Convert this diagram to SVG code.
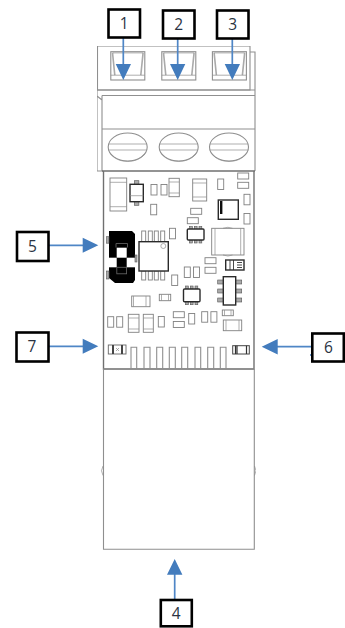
<svg xmlns="http://www.w3.org/2000/svg" width="345" height="628" viewBox="0 0 345 628">
<style>
.b{fill:none;stroke:#8f8f8f;stroke-width:1.1}
.h{fill:none;stroke:#707070;stroke-width:1.4}
.c{fill:#fff;stroke:#808080;stroke-width:.9}
.d{fill:#fff;stroke:#2c2c2c;stroke-width:1.4}
.l{fill:none;stroke:#8c8c8c;stroke-width:.7}
.p{fill:#aaa;stroke:#555;stroke-width:.6}
.n{fill:#fff;stroke:#000;stroke-width:2.6}
.t{font-family:"Open Sans","Liberation Sans",sans-serif;font-size:15.500px;fill:#2a3342;text-anchor:middle}
.w{fill:none;stroke:#4f86c6;stroke-width:1.7}
.a{fill:#437cbd}
</style>
<defs>
<filter id="soft" x="0" y="0" width="1" height="1"><feGaussianBlur stdDeviation="0.35"/></filter>
<g id="win"><rect class="b" x="0" y="0" width="34" height="28.300"/><path d="M1.700 1L4 23.500M32.300 1L30 23.500" fill="none" stroke="#aaa" stroke-width="1.600"/><path class="l" d="M0 23.500H34M2 1.200H32"/></g>
<g id="screw"><ellipse class="b" cx="0" cy="0" rx="19.500" ry="14"/><path class="l" d="M-19 -3H19M-19.300 3H19.300"/><path class="l" d="M-17 7Q-12 14 0 14.500Q12 14 17 7"/></g>
<rect id="r1" class="c" width="6" height="10.500"/>
<rect id="r2" class="c" width="11" height="6"/>
</defs>
<g id="device" filter="url(#soft)">
<rect class="b" x="97.500" y="46" width="152.500" height="44"/>
<path class="b" d="M250 52H255V90M97.500 90H255V95.500H102M97 90V171H103M102 95.500V171M102 129H255M255 95.500V171M97 96L102 100"/>
<use href="#win" x="110.800" y="51.700"/><use href="#win" x="161.800" y="51.700"/><use href="#win" x="212.400" y="51.700"/>
<use href="#screw" x="127.700" y="147"/><use href="#screw" x="178.700" y="147"/><use href="#screw" x="229" y="147"/>
<path class="h" d="M103.500 171V369H254V171M102 171H255"/>
<path class="b" d="M103.500 369V549.300H254.300V369M103 369H254"/>
<path class="l" d="M103 466Q100 470.700 103 475.500M254.500 466Q257.500 470.700 254.500 475.500" stroke-width="1"/>

<rect class="c" x="110" y="178" width="16.700" height="33"/><path class="l" d="M110 182.300H126.700M110 206.700H126.700"/>
<rect class="p" x="134.300" y="180.700" width="4.600" height="3.600"/><rect class="p" x="134.300" y="201.700" width="4.600" height="3.600"/>
<rect class="d" x="130" y="184.300" width="13.300" height="17.400"/><path class="l" d="M130 195.700H143.300"/>
<use href="#r1" x="151" y="184.500"/><use href="#r1" x="161" y="184.500"/>
<rect class="c" x="169" y="178.300" width="10.300" height="18.400"/><path class="l" d="M169 182H179.300M169 193H179.300"/>
<use href="#r1" x="150.700" y="204.300"/>
<rect class="c" x="192.700" y="179" width="14" height="22"/><path class="l" d="M192.700 183H206.700M192.700 197H206.700"/>
<use href="#r1" x="217.700" y="179"/>
<use href="#r2" x="237.700" y="173"/><use href="#r2" x="237.700" y="182.300"/>
<use href="#r1" x="244" y="194.300"/><use href="#r1" x="244" y="213.500"/>
<rect class="d" x="218.300" y="200" width="20" height="19.300"/><rect x="220" y="201" width="2.400" height="13" fill="#111"/>
<use href="#r2" x="190.700" y="208.300"/><use href="#r2" x="187.300" y="217.700"/>

<path fill="#050505" d="M109 231H132L135 234V280L133 283H115L109 278Z"/>
<rect x="116.700" y="247.700" width="10" height="10" fill="#fff"/>
<rect x="109" y="257.700" width="7.700" height="9.600" fill="#fff"/>
<rect x="126.700" y="257.700" width="8.300" height="9.600" fill="#fff"/>
<path d="M116 247.500V243.500H127.500V247.500" fill="none" stroke="#666" stroke-width=".8"/>
<rect x="116.800" y="267.300" width="9.800" height="6.500" fill="none" stroke="#666" stroke-width=".8"/>
<rect class="p" x="106.500" y="236.700" width="2.500" height="6.500"/><rect class="p" x="106.500" y="271" width="2.500" height="8"/>
<rect class="p" x="135" y="255" width="2" height="7"/>
<rect class="c" x="141.700" y="231" width="4" height="10.500"/><rect class="c" x="148.300" y="231" width="4" height="10.500"/><rect class="c" x="154.300" y="231" width="4" height="10.500"/><rect class="c" x="160.700" y="231" width="4" height="10.500"/>
<rect class="c" x="141.700" y="271" width="4" height="9"/><rect class="c" x="148.300" y="271" width="4" height="9"/><rect class="c" x="154.300" y="271" width="4" height="9"/><rect class="c" x="160.700" y="271" width="4" height="9"/>
<rect class="d" x="139" y="241.700" width="29.300" height="29.300"/><circle class="l" cx="163.300" cy="246" r="2.500"/>
<use href="#r1" x="169.500" y="228.300"/>

<rect class="p" x="189.500" y="226.500" width="2.800" height="3"/><rect class="p" x="194.300" y="226.500" width="2.800" height="3"/><rect class="p" x="199" y="226.500" width="2.800" height="3"/>
<rect class="p" x="189.500" y="240" width="2.800" height="3"/><rect class="p" x="194.300" y="240" width="2.800" height="3"/><rect class="p" x="199" y="240" width="2.800" height="3"/>
<rect class="d" x="187.300" y="229" width="16.700" height="11" rx="1"/>
<rect class="c" x="211.700" y="228.300" width="32.300" height="26.700"/><path class="l" d="M215 228.300V255M240.700 228.300V255M223 228.300Q228 226.300 232.500 228.300M223 255Q228 257 232.500 255"/>
<use href="#r2" x="205" y="257.700"/><use href="#r2" x="205" y="267.300"/>
<rect class="d" x="225.700" y="260" width="18.300" height="10"/><path d="M230 260V270M233.500 260V270M237 262.500H242M237 265H242M237 267.500H242" fill="none" stroke="#333" stroke-width=".9"/>
<use href="#r1" x="184.300" y="267"/><use href="#r1" x="193.500" y="267"/>
<use href="#r1" x="171.700" y="275"/>

<rect class="c" x="131.700" y="296" width="18.300" height="10.700"/><path class="l" d="M133.500 296V306.700M146 296V306.700"/>
<rect class="c" x="159.300" y="294.300" width="11.400" height="6.400"/><path class="l" d="M161.500 294.300V300.700M168.500 294.300V300.700"/>
<rect class="p" x="185.500" y="286" width="2.800" height="3"/><rect class="p" x="190.300" y="286" width="2.800" height="3"/><rect class="p" x="195" y="286" width="2.800" height="3"/>
<rect class="p" x="185.500" y="301.700" width="2.800" height="3"/><rect class="p" x="190.300" y="301.700" width="2.800" height="3"/><rect class="p" x="195" y="301.700" width="2.800" height="3"/>
<rect class="d" x="183.500" y="289" width="16.500" height="12.700" rx="1"/>
<rect class="p" x="217.700" y="280" width="5.600" height="4"/><rect class="p" x="217.700" y="289" width="5.600" height="4"/><rect class="p" x="217.700" y="298" width="5.600" height="4"/>
<rect class="p" x="235.700" y="280" width="6" height="4"/><rect class="p" x="235.700" y="289" width="6" height="4"/><rect class="p" x="235.700" y="298" width="6" height="4"/>
<rect class="d" x="223.300" y="276.700" width="12.400" height="28.300"/>

<use href="#r1" x="107.700" y="316.700"/><use href="#r1" x="116.700" y="316.700"/>
<rect class="c" x="128.300" y="314.300" width="10.700" height="18"/><path class="l" d="M128.300 318H139M128.300 329H139"/>
<rect class="c" x="143.300" y="314.300" width="10" height="18"/><path class="l" d="M143.300 318H153.300M143.300 329H153.300"/>
<use href="#r1" x="158.300" y="316.500"/>
<use href="#r2" x="173.300" y="311.700"/><use href="#r2" x="173.300" y="321.500"/>
<use href="#r1" x="188.700" y="313.500"/>
<use href="#r1" x="201.700" y="311.700"/><use href="#r1" x="210.900" y="311.700"/>
<rect class="c" x="222.300" y="310" width="11" height="5.700"/><path class="l" d="M224.500 310V315.700M231 310V315.700"/>
<rect class="c" x="223.300" y="320" width="18.400" height="10.700"/><path class="l" d="M226 320V330.700M239 320V330.700"/>
<rect x="108.300" y="345" width="17.700" height="9" fill="#fff" stroke="#666" stroke-width=".9"/><path fill="#444" d="M112 345H114V354H112ZM121 345H123V354H121Z"/><path class="l" d="M116 348L119 351M119 348L116 351"/>
<rect x="232.700" y="345.700" width="16.600" height="8.300" fill="#fff" stroke="#444" stroke-width="1"/><path d="M235.500 345.700V354M237 345.700V354M246.500 345.700V354" fill="none" stroke="#333" stroke-width="1.200"/>
<path class="b" d="M131 369V347.300H136.700V369M144 369V347.300H150V369M156.700 369V347.300H162.700V369M169.300 369V347.300H175.300V369M181.700 369V347.300H187.700V369M195 369V347.300H200.700V369M207.700 369V347.300H213.700V369M220.300 369V347.300H226V369"/>
</g>
<g id="connectors">
<path class="w" d="M123.300 37V66M177.700 38V66M232.300 38V66M49 245.300H84M49 346.300H84M312 346.700H276M174.700 599.500V573M311 354V356"/>
<path class="a" d="M115.700 64H131L123.300 80ZM170 64H185.300L177.700 80ZM224.700 64H240L232.300 80ZM82.700 237.800V252.800L98.300 245.300ZM82.700 338.800V353.800L98.300 346.300ZM277.700 339V354.500L261.700 346.700ZM167 574.700H182.400L174.700 559Z"/>
</g>
<g id="n1"><rect class="n" x="108.500" y="9.500" width="31.500" height="28"/><text class="t" x="124.300" y="28.500">1</text></g>
<g id="n2"><rect class="n" x="163" y="10.500" width="31.500" height="28"/><text class="t" x="178.800" y="29.500">2</text></g>
<g id="n3"><rect class="n" x="217" y="10.500" width="31.500" height="28"/><text class="t" x="232.800" y="29.500">3</text></g>
<g id="n4"><rect class="n" x="160.800" y="600" width="31" height="26.300"/><text class="t" x="176.300" y="619">4</text></g>
<g id="n5"><rect class="n" x="17" y="232" width="31.500" height="29"/><text class="t" x="32.500" y="251.500">5</text></g>
<g id="n6"><rect class="n" x="312.300" y="333.500" width="31.500" height="28"/><text class="t" x="328.500" y="353">6</text></g>
<g id="n7"><rect class="n" x="16.500" y="332.500" width="32" height="29"/><text class="t" x="32" y="351.500">7</text></g>
</svg>
